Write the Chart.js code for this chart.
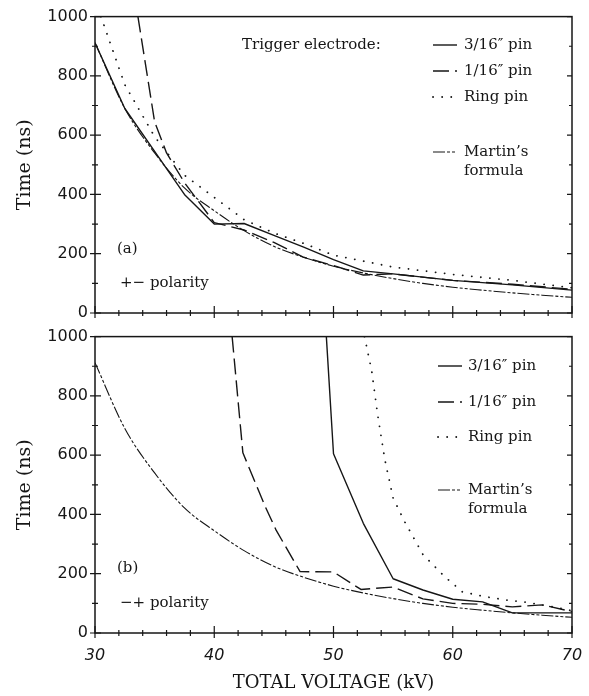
<!DOCTYPE html>
<html>
<head>
<meta charset="utf-8">
<script src="https://cdn.jsdelivr.net/npm/chart.js@4.4.0/dist/chart.umd.min.js"></script>
<style>
  body { margin: 0; background: #fff; width: 589px; height: 696px; position: relative; overflow: hidden; }
  canvas { position: absolute; left: 0; }
</style>
</head>
<body>
<canvas id="chartA" width="589" height="330" style="top:0"></canvas>
<canvas id="chartB" width="589" height="376" style="top:320px"></canvas>
<script>
// Martin's formula, same curve in both panels
var martinKV = [30, 32.5, 35, 37.5, 40, 42.5, 45, 47.5, 50, 52.5, 55, 57.5, 60, 62.5, 65, 67.5, 70];
var martinNs = [912, 690, 540, 422, 345, 278, 225, 188, 158, 135, 116, 100, 87, 77, 68, 60, 53];

// (a) +- polarity
var a316KV = [30, 32.5, 35, 37.5, 40, 42.5, 45, 47.5, 50, 52.5, 55, 60, 65, 70];
var a316Ns = [912, 690, 545, 400, 300, 302, 262, 222, 180, 142, 132, 110, 95, 77];
var a116KV = [33.6, 35, 36, 37.5, 40, 42.5, 45, 47.5, 50, 52.5, 55, 60, 65, 70];
var a116Ns = [1000, 645, 540, 440, 305, 280, 238, 188, 160, 128, 132, 110, 97, 80];
var aRingKV = [30.5, 32.5, 35, 37.5, 40, 42.5, 45, 47.5, 50, 55, 60, 65, 70];
var aRingNs = [1000, 770, 595, 465, 390, 315, 270, 235, 195, 155, 130, 110, 85];

// (b) -+ polarity
var b316KV = [49.4, 50, 52.5, 55, 57.5, 60, 62.5, 65, 67.5, 70];
var b316Ns = [1000, 605, 370, 183, 145, 114, 105, 68, 68, 68];
var b116KV = [41.5, 42.4, 44.3, 45.2, 47.2, 50, 52.3, 55, 57.5, 60, 62.5, 65, 67.5, 70];
var b116Ns = [1000, 608, 424, 346, 207, 206, 147, 155, 115, 100, 97, 88, 95, 72];
var bRingKV = [52.6, 53.2, 53.7, 54.3, 55, 56, 57.5, 59.3, 60.8, 62.5, 64.5, 66.3, 69.1, 70];
var bRingNs = [1000, 885, 737, 586, 455, 373, 265, 191, 139, 124, 111, 103, 83, 75];

var yTicks = [0, 200, 400, 600, 800, 1000];
var xTicks = [30, 40, 50, 60, 70];

var INK = '#161616';
var SERIF = '"DejaVu Serif", "Liberation Serif", serif';
var SANS = '"DejaVu Sans", "Liberation Sans", sans-serif';

var styles = {
  pin316: { dash: [], width: 1.4, cap: 'butt' },
  pin116: { dash: [16, 6], width: 1.4, cap: 'butt' },
  ring:   { dash: [0.1, 9], width: 1.8, cap: 'round' },
  martin: { dash: [12, 2, 3, 2, 3, 2], width: 1.1, cap: 'butt' }
};

function pts(xs, ys) {
  return xs.map(function (x, i) { return { x: x, y: ys[i] }; });
}

function series(xs, ys, key, smooth) {
  var s = styles[key];
  return {
    data: pts(xs, ys),
    borderColor: INK,
    borderWidth: s.width,
    borderDash: s.dash,
    borderCapStyle: s.cap,
    borderJoinStyle: 'round',
    pointRadius: 0,
    fill: false,
    cubicInterpolationMode: smooth ? 'monotone' : 'default',
    tension: 0
  };
}

// frame, tick marks, legend and panel labels
var framePlugin = {
  id: 'frame',
  afterDatasetsDraw: function (chart, args, o) {
    var ctx = chart.ctx, a = chart.chartArea;
    var xs = chart.scales.x, ys = chart.scales.y;
    ctx.save();
    ctx.strokeStyle = INK;
    ctx.setLineDash([]);
    ctx.lineWidth = 1.5;
    ctx.strokeRect(a.left, a.top, a.right - a.left, a.bottom - a.top);
    ctx.lineWidth = 1.2;
    ctx.beginPath();
    for (var v = 30; v <= 70; v += 2) {
      var px = xs.getPixelForValue(v), maj = v % 10 === 0;
      ctx.moveTo(px, a.bottom - (maj ? 7 : 3));
      ctx.lineTo(px, a.bottom + (maj ? 5 : 3));
    }
    for (var t = 0; t <= 1000; t += 100) {
      var py = ys.getPixelForValue(t), mj = t % 200 === 0;
      ctx.moveTo(a.left - (mj ? 5 : 3), py);
      ctx.lineTo(a.left + (mj ? 6 : 3), py);
      ctx.moveTo(a.right - (mj ? 5 : 3), py);
      ctx.lineTo(a.right, py);
    }
    ctx.stroke();

    ctx.fillStyle = INK;
    ctx.font = '15px ' + SERIF;
    ctx.textBaseline = 'middle';
    ctx.textAlign = 'left';
    if (o.header) ctx.fillText(o.header.text, o.header.x, o.header.y);
    o.rows.forEach(function (r) {
      var s = styles[r.style];
      ctx.beginPath();
      ctx.lineWidth = s.width;
      ctx.lineCap = s.cap;
      ctx.setLineDash(s.dash);
      ctx.moveTo(o.lineX0, r.y);
      ctx.lineTo(o.lineX1, r.y);
      ctx.stroke();
      ctx.setLineDash([]);
      r.lines.forEach(function (txt, i) {
        ctx.fillText(txt, o.textX, r.y + i * 19);
      });
    });
    ctx.fillText(o.tag.text, o.tag.x, o.tag.y);
    ctx.fillText(o.pol.text, o.pol.x, o.pol.y);
    ctx.restore();
  }
};

function makeChart(id, datasets, bottomAxis, frameOpts) {
  return new Chart(document.getElementById(id), {
    type: 'line',
    data: { datasets: datasets },
    plugins: [framePlugin],
    options: {
      responsive: false,
      animation: false,
      layout: { padding: { top: 15, right: 17, left: 10, bottom: 0 } },
      plugins: { legend: { display: false }, tooltip: { enabled: false }, frame: frameOpts },
      scales: {
        x: {
          type: 'linear', min: 30, max: 70,
          grid: { display: false, drawTicks: false },
          border: { display: false },
          afterBuildTicks: function (s) { s.ticks = xTicks.map(function (v) { return { value: v }; }); },
          ticks: {
            display: bottomAxis, padding: 13, color: INK,
            font: { family: SANS, size: 16, style: 'italic' },
            callback: function (v) { return String(v); }
          },
          title: {
            display: bottomAxis, text: 'TOTAL VOLTAGE (kV)', color: INK,
            font: { family: SERIF, size: 18 }, padding: { top: 0, bottom: 2 }
          },
          afterFit: function (s) {
            s.height = bottomAxis ? 63 : 17;
            s.paddingLeft = 0;
            s.paddingRight = 0;
          }
        },
        y: {
          min: 0, max: 1000,
          grid: { display: false, drawTicks: false },
          border: { display: false },
          afterBuildTicks: function (s) { s.ticks = yTicks.map(function (v) { return { value: v }; }); },
          ticks: {
            padding: 7, color: INK, font: { family: SANS, size: 16 },
            callback: function (v) { return String(v); }
          },
          title: {
            display: true, text: 'Time (ns)', color: INK,
            font: { family: SERIF, size: 19 }, padding: { top: 4, bottom: 4 }
          },
          afterFit: function (s) { s.width = 85; }
        }
      }
    }
  });
}

makeChart('chartA', [
  series(a316KV, a316Ns, 'pin316'),
  series(a116KV, a116Ns, 'pin116'),
  series(aRingKV, aRingNs, 'ring'),
  series(martinKV, martinNs, 'martin', true)
], false, {
  header: { text: 'Trigger electrode:', x: 242, y: 45 },
  lineX0: 433, lineX1: 457, textX: 464,
  rows: [
    { style: 'pin316', lines: ['3/16\u2033 pin'], y: 45 },
    { style: 'pin116', lines: ['1/16\u2033 pin'], y: 71 },
    { style: 'ring', lines: ['Ring pin'], y: 97 },
    { style: 'martin', lines: ['Martin\u2019s', 'formula'], y: 152 }
  ],
  tag: { text: '(a)', x: 117, y: 249 },
  pol: { text: '+\u2212 polarity', x: 120, y: 283 }
});

makeChart('chartB', [
  series(b316KV, b316Ns, 'pin316'),
  series(b116KV, b116Ns, 'pin116'),
  series(bRingKV, bRingNs, 'ring'),
  series(martinKV, martinNs, 'martin', true)
], true, {
  header: null,
  lineX0: 438, lineX1: 462, textX: 468,
  rows: [
    { style: 'pin316', lines: ['3/16\u2033 pin'], y: 46 },
    { style: 'pin116', lines: ['1/16\u2033 pin'], y: 82 },
    { style: 'ring', lines: ['Ring pin'], y: 117 },
    { style: 'martin', lines: ['Martin\u2019s', 'formula'], y: 170 }
  ],
  tag: { text: '(b)', x: 117, y: 248 },
  pol: { text: '\u2212+ polarity', x: 120, y: 283 }
});
</script>
</body>
</html>
